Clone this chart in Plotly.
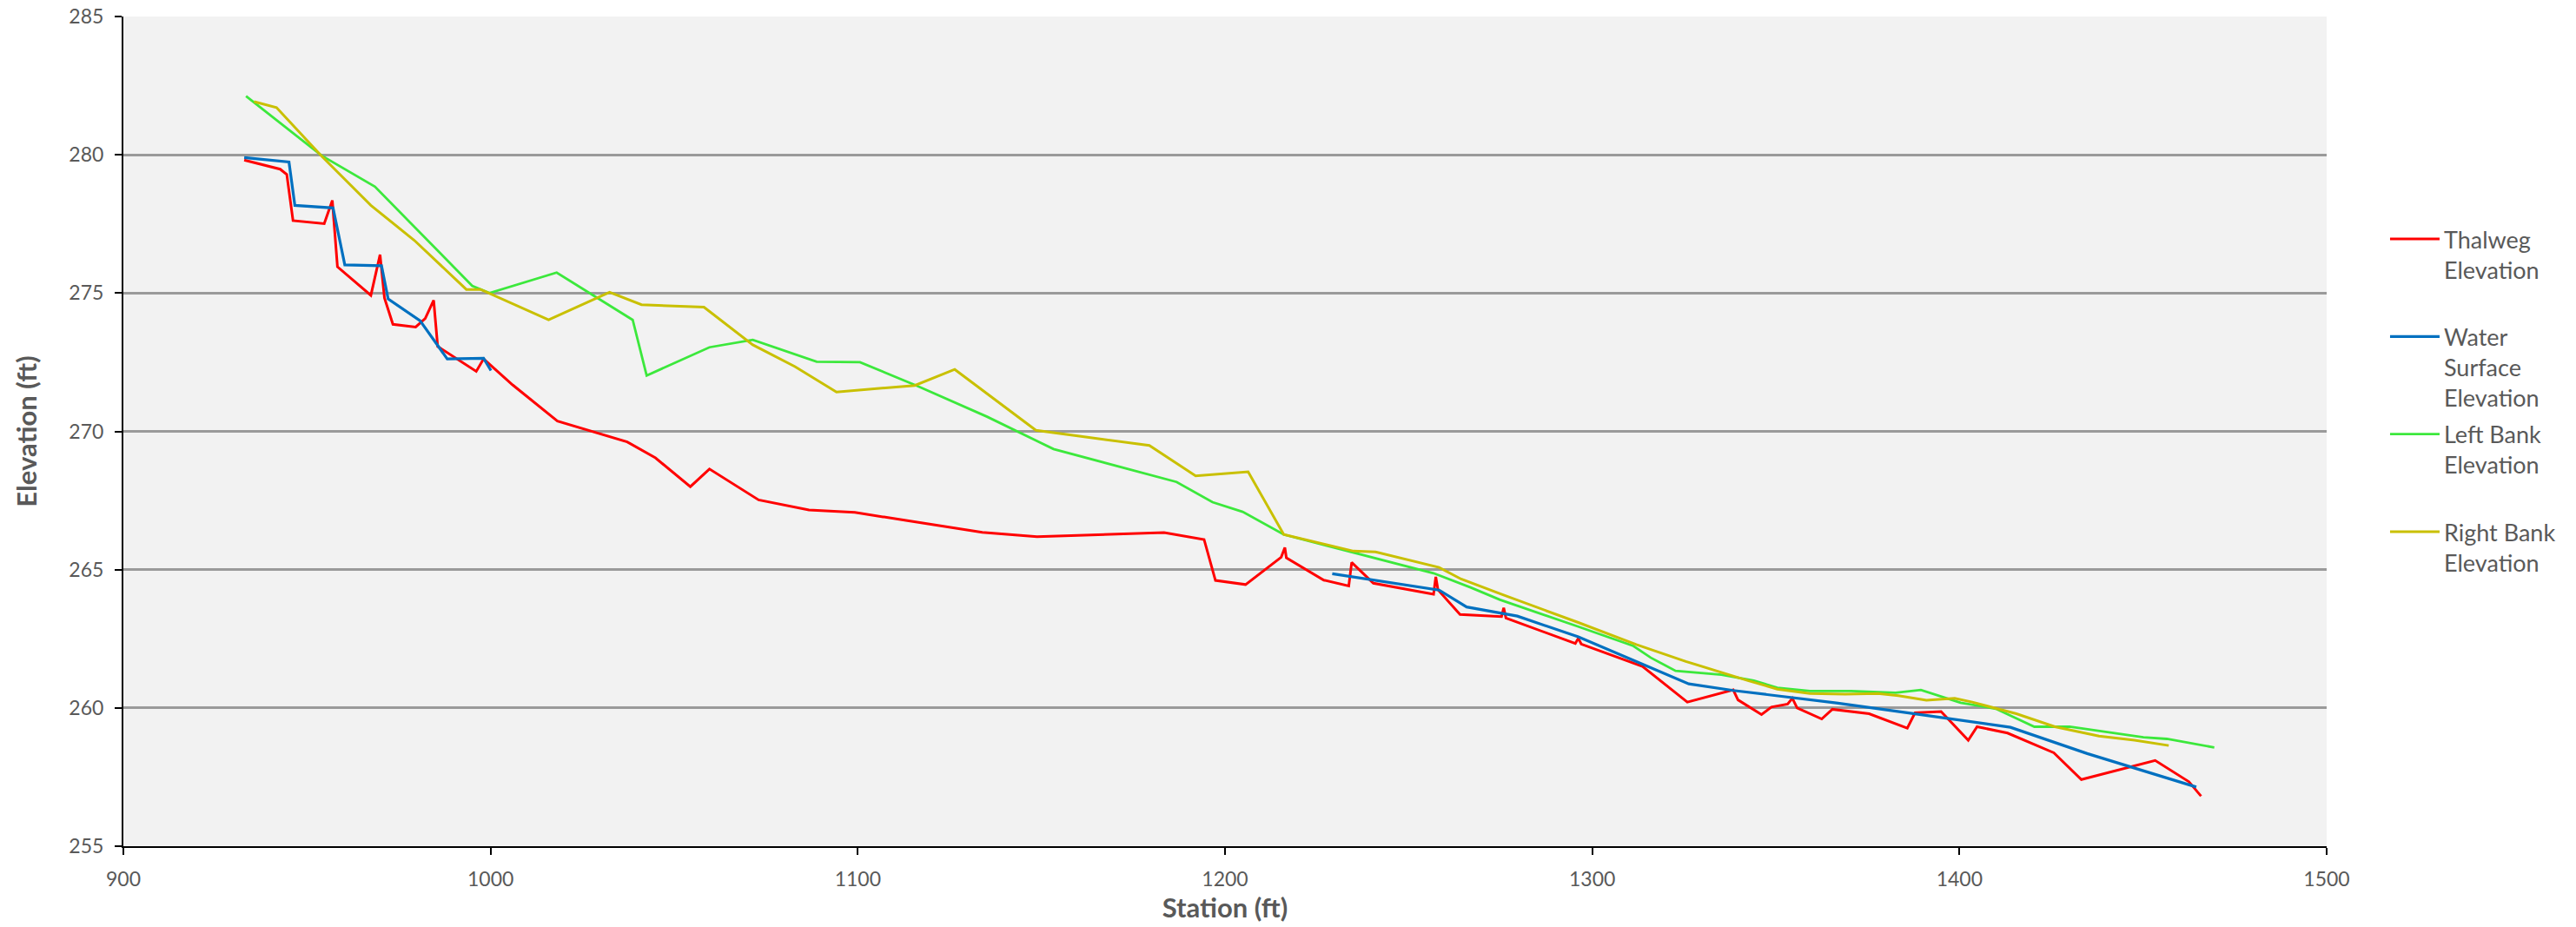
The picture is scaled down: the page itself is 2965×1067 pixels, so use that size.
import plotly.graph_objects as go

# Longitudinal profile: station (ft) vs elevation (ft)
thalweg_sta = [932.9, 942.7, 944.5, 946.2, 954.7, 956.9, 958.3, 967.4, 969.9, 971.1,
               973.4, 979.6, 982.2, 984.5, 985.6, 996.1, 998.1, 1006.0, 1018.2, 1037.2,
               1044.9, 1054.4, 1059.6, 1073.0, 1086.7, 1099.2, 1113.5, 1133.9, 1148.8, 1183.4,
               1194.3, 1197.4, 1205.6, 1215.3, 1216.3, 1216.7, 1226.9, 1233.7, 1234.5, 1240.4,
               1256.8, 1257.4, 1258.0, 1264.0, 1275.3, 1275.9, 1276.5, 1295.4, 1296.2, 1297.0,
               1313.7, 1325.9, 1338.4, 1339.7, 1346.1, 1348.8, 1353.2, 1354.5, 1355.8, 1362.5,
               1365.4, 1375.4, 1385.8, 1387.9, 1395.0, 1402.4, 1404.8, 1413.1, 1425.7, 1433.2,
               1453.3, 1462.5, 1465.8]
thalweg_elev = [279.81, 279.48, 279.29, 277.62, 277.51, 278.35, 275.95, 274.92, 276.39, 274.82,
                273.87, 273.77, 274.08, 274.74, 273.07, 272.17, 272.62, 271.68, 270.37, 269.62,
                269.04, 268.00, 268.64, 267.52, 267.16, 267.07, 266.77, 266.35, 266.19, 266.34,
                266.09, 264.61, 264.46, 265.45, 265.80, 265.43, 264.62, 264.41, 265.26, 264.51,
                264.11, 264.74, 264.27, 263.38, 263.30, 263.62, 263.25, 262.33, 262.52, 262.31,
                261.50, 260.21, 260.65, 260.29, 259.76, 260.03, 260.14, 260.35, 260.00, 259.60,
                259.95, 259.79, 259.27, 259.82, 259.87, 258.83, 259.32, 259.09, 258.38, 257.41,
                258.10, 257.33, 256.81]

# Water surface has no readings between ~1000 ft and ~1229 ft (None breaks the line)
water_sta = [932.9, 945.1, 946.7, 957.1, 960.3, 970.3, 972.1, 980.8, 988.2, 998.1,
             1000.1, None, 1229.2, 1240.2, 1258.3, 1265.8, 1279.6, 1296.2, 1314.3, 1326.3,
             1338.4, 1354.5, 1366.5, 1386.6, 1401.1, 1413.9, 1434.8, 1464.5]
water_elev = [279.90, 279.74, 278.17, 278.08, 276.02, 275.99, 274.79, 274.00, 272.62, 272.64,
              272.20, None, 264.85, 264.63, 264.26, 263.65, 263.32, 262.57, 261.56, 260.87,
              260.63, 260.37, 260.18, 259.81, 259.53, 259.30, 258.35, 257.14]

left_bank_sta = [933.4, 954.0, 968.5, 995.0, 999.7, 1018.0, 1038.7, 1042.5, 1059.6, 1071.4,
                 1088.8, 1100.6, 1116.2, 1135.2, 1153.3, 1186.8, 1196.6, 1204.8, 1216.0, 1235.7,
                 1256.8, 1267.0, 1274.9, 1296.2, 1311.2, 1315.9, 1322.7, 1335.2, 1344.0, 1350.4,
                 1359.3, 1370.5, 1382.6, 1389.5, 1400.3, 1409.9, 1420.4, 1430.0, 1441.2, 1450.1,
                 1456.5, 1469.4]
left_bank_elev = [282.12, 279.97, 278.85, 275.26, 275.00, 275.74, 274.03, 272.02, 273.04, 273.31,
                  272.52, 272.50, 271.64, 270.53, 269.36, 268.17, 267.44, 267.09, 266.27, 265.59,
                  264.87, 264.35, 263.91, 262.94, 262.24, 261.82, 261.34, 261.20, 260.99, 260.73,
                  260.61, 260.61, 260.55, 260.65, 260.19, 259.97, 259.32, 259.32, 259.11, 258.94,
                  258.88, 258.57]

right_bank_sta = [935.6, 941.7, 954.0, 967.4, 979.2, 993.4, 997.3, 1015.8, 1032.4, 1041.1,
                  1058.1, 1071.4, 1082.9, 1094.2, 1115.5, 1126.4, 1148.5, 1179.4, 1192.0, 1206.3,
                  1216.0, 1235.0, 1241.0, 1258.3, 1264.3, 1275.7, 1296.2, 1312.0, 1325.5, 1335.2,
                  1342.4, 1350.4, 1359.3, 1368.9, 1377.8, 1383.4, 1391.0, 1398.7, 1403.5, 1415.5,
                  1426.0, 1438.0, 1447.7, 1457.0]
right_bank_elev = [281.92, 281.71, 279.95, 278.17, 276.91, 275.13, 275.13, 274.03, 275.03, 274.58,
                   274.49, 273.13, 272.34, 271.42, 271.66, 272.24, 270.04, 269.49, 268.39, 268.54,
                   266.27, 265.67, 265.64, 265.08, 264.66, 264.09, 263.09, 262.29, 261.68, 261.28,
                   260.99, 260.68, 260.52, 260.50, 260.52, 260.44, 260.28, 260.35, 260.21, 259.79,
                   259.32, 258.98, 258.83, 258.64]

x_ticks = [900, 1000, 1100, 1200, 1300, 1400, 1500]
y_ticks = [255, 260, 265, 270, 275, 280, 285]

FONT = "Lato"
GREY = "#595959"

series = [
    ("Thalweg<br>Elevation<br> ", thalweg_sta, thalweg_elev, "#ff0000", 3),
    ("Water<br>Surface<br>Elevation", water_sta, water_elev, "#0070c0", 3.2),
    ("Left Bank<br>Elevation<br> ", left_bank_sta, left_bank_elev, "#3ce83c", 2.8),
    ("Right Bank<br>Elevation<br> ", right_bank_sta, right_bank_elev, "#c9c000", 3),
]

fig = go.Figure()
for i, (name, xs, ys, color, width) in enumerate(series):
    fig.add_trace(go.Scatter(
        x=xs, y=ys, name=name, mode="lines",
        line=dict(color=color, width=width),
        connectgaps=False, legendgroup=f"g{i}",
    ))

fig.update_layout(
    width=2965, height=1067,
    margin=dict(l=142, r=287, t=19, b=93, autoexpand=False),
    paper_bgcolor="white",
    plot_bgcolor="#f2f2f2",
    font=dict(family=FONT, color=GREY, size=24),
    showlegend=True,
    legend=dict(
        x=1.0268, xanchor="left", y=0.757, yanchor="top",
        font=dict(family=FONT, size=27, color=GREY),
        valign="top", itemwidth=57, tracegroupgap=4,
        bgcolor="rgba(0,0,0,0)",
    ),
)

fig.update_xaxes(
    range=[900, 1500], tickvals=x_ticks, ticktext=[str(v) for v in x_ticks],
    showgrid=False, zeroline=False,
    showline=True, linecolor="#000000", linewidth=2,
    ticks="outside", ticklen=8, tickwidth=2, tickcolor="#000000",
    tickfont=dict(family=FONT, size=23, color=GREY),
    ticklabelstandoff=8,
    title=dict(text="<b>Station (ft)</b>", font=dict(family=FONT, size=31, color=GREY), standoff=10),
)
fig.update_yaxes(
    range=[255, 285], tickvals=y_ticks, ticktext=[str(v) for v in y_ticks],
    showgrid=True, gridcolor="#9a9a9a", gridwidth=2.5, zeroline=False,
    showline=True, linecolor="#000000", linewidth=2,
    ticks="outside", ticklen=8, tickwidth=2, tickcolor="#000000",
    tickfont=dict(family=FONT, size=23, color=GREY),
    ticklabelstandoff=8,
    title=dict(text="<b>Elevation (ft)</b>", font=dict(family=FONT, size=31, color=GREY), standoff=28),
)

fig.write_html("out.html")
